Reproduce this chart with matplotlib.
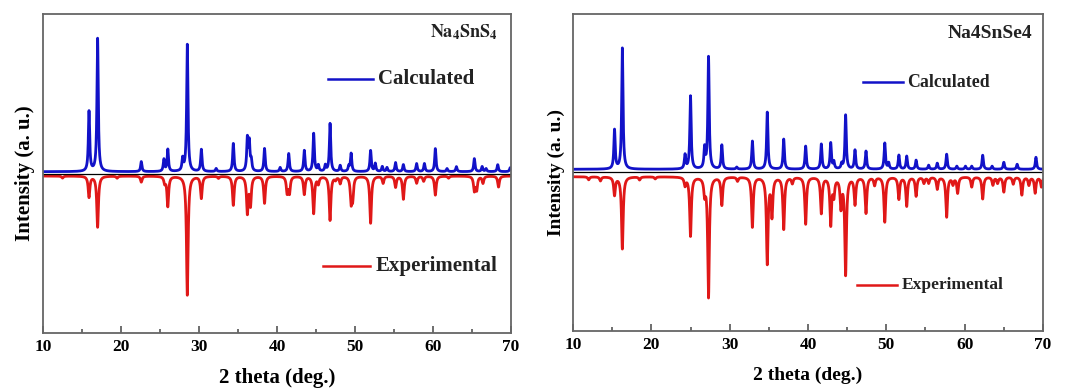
import numpy as np
import matplotlib
matplotlib.use("Agg")
import matplotlib.pyplot as plt

plt.rcParams['font.family'] = ['Liberation Serif', 'DejaVu Serif']
plt.rcParams['font.weight'] = 'bold'
plt.rcParams['mathtext.fontset'] = 'stix'

# peak lists: 2theta position, height (arbitrary units)
s_calc_pos = [15.9, 17.0, 22.6, 25.5, 26.0, 27.9, 28.5, 30.3, 32.2, 34.4, 36.2, 36.45, 36.7,
              38.4, 40.4, 41.5, 43.5, 44.7, 45.3, 46.2, 46.8, 48.1, 49.2, 49.5, 52.0, 52.6,
              53.5, 54.1, 55.2, 56.2, 57.9, 58.9, 60.3, 61.8, 63.0, 65.3, 66.3, 66.8, 68.3, 69.9]
s_calc_h = [60, 133, 10, 12, 22, 12, 127, 22, 3, 28, 32, 28, 10,
            23, 4, 18, 21, 38, 6, 6, 48, 6, 5, 18, 21, 8,
            5, 4, 9, 7, 8, 8, 23, 3, 5, 13, 5, 3, 7, 4]
s_exp_pos = [15.9, 17.0, 22.6, 25.6, 26.0, 28.5, 30.3, 34.4, 36.2, 36.6, 38.4, 41.3, 41.6,
             43.5, 44.7, 45.3, 46.8, 48.1, 49.5, 49.7, 52.0, 53.6, 55.2, 56.2, 57.9, 58.8,
             60.3, 65.3, 65.6, 66.4, 68.4, 12.5, 19.5, 32.5, 47.5, 62.0]
s_exp_h = [21, 51, 6, 6, 30, 119, 22, 29, 36, 28, 27, 16, 16,
           18, 37, 7, 44, 7, 24, 20, 47, 7, 11, 23, 7, 5,
           19, 14, 13, 7, 11, 2, 2, 2, 3, 2]

se_calc_pos = [15.3, 16.3, 24.3, 25.0, 26.8, 27.3, 29.0, 30.9, 32.9, 34.8, 36.9, 39.7, 41.7,
               42.9, 43.3, 44.3, 44.8, 46.0, 47.4, 49.8, 50.3, 51.6, 52.6, 53.8, 55.4, 56.5,
               57.7, 59.0, 60.1, 60.9, 62.3, 63.5, 65.0, 66.7, 69.1]
se_calc_h = [39, 121, 14, 73, 20, 112, 24, 2, 28, 57, 30, 23, 25,
             26, 7, 5, 54, 19, 18, 26, 6, 14, 13, 9, 4, 6,
             15, 3, 3, 3, 14, 3, 7, 5, 12]
se_exp_pos = [15.3, 16.3, 24.3, 25.0, 26.8, 27.3, 29.0, 32.9, 34.8, 35.4, 36.9, 39.7, 41.7,
              42.9, 43.3, 44.2, 44.8, 46.0, 47.4, 49.8, 51.6, 52.6, 53.8, 55.4, 56.5, 57.7,
              59.1, 60.9, 62.3, 63.6, 65.0, 67.3, 69.0, 69.8, 12.0, 13.5, 18.5, 20.5, 31.0,
              38.0, 48.5, 54.8, 58.5, 64.2, 66.2, 68.2]
se_exp_h = [18, 72, 8, 59, 15, 120, 28, 50, 86, 38, 52, 47, 36,
            47, 17, 29, 97, 27, 36, 45, 22, 29, 19, 6, 12, 40,
            16, 10, 22, 8, 15, 18, 16, 10, 3, 4, 3, 2, 4,
            6, 8, 6, 7, 6, 7, 8]


def pattern(x, pos, h, w):
    y = np.zeros_like(x)
    for p, a in zip(pos, h):
        y += a / (1 + ((x - p) / (w / 2)) ** 2)
    return y


x = np.arange(10, 70.001, 0.01)

fig = plt.figure(figsize=(10.65, 3.92), dpi=100)
ax1 = fig.add_axes([43 / 1065, 59 / 392, 468 / 1065, 319 / 392])
ax2 = fig.add_axes([573 / 1065, 61 / 392, 470 / 1065, 317 / 392])

panels = [
    (ax1, s_calc_pos, s_calc_h, s_exp_pos, s_exp_h, 2.0, -2.3, (-159.3, 159.7), 15),
    (ax2, se_calc_pos, se_calc_h, se_exp_pos, se_exp_h, 2.4, -5.0, (-159.3, 157.7), 14),
]

for ax, cp, ch, ep, eh, b_off, r_off, ylim, fs in panels:
    ax.plot(x, b_off + pattern(x, cp, ch, 0.2), color='#1212c8', lw=2.0)
    ax.plot(x, r_off - pattern(x, ep, eh, 0.25), color='#e01818', lw=2.0)
    ax.axhline(0, color='black', lw=0.9)
    ax.set_xlim(10, 70)
    ax.set_ylim(*ylim)
    ax.set_yticks([])
    ax.set_xticks(range(10, 71, 10))
    ax.set_xticks(range(15, 70, 10), minor=True)
    ax.tick_params(axis='x', which='major', direction='in', length=5, width=1.2,
                   color='#555555', labelsize=12.5, pad=4)
    ax.tick_params(axis='x', which='minor', direction='in', length=3, width=1.2,
                   color='#555555')
    for sp in ax.spines.values():
        sp.set_color('#666666')
        sp.set_linewidth(1.3)
    ax.set_xlabel('2 theta (deg.)', fontsize=fs, fontweight='bold', labelpad=10)
    ax.set_ylabel('Intensity (a. u.)', fontsize=fs, fontweight='bold', labelpad=6)

# sample names
ax1.text(0.972, 0.944, r"$\mathbf{Na_4SnS_4}$", transform=ax1.transAxes,
         ha='right', va='center', fontsize=13, color='#222222')
ax2.text(0.977, 0.94, "Na4SnSe4", transform=ax2.transAxes,
         ha='right', va='center', fontsize=14, fontweight='bold', color='#222222')

# legend entries drawn by hand
ax1.plot([0.609, 0.705], [0.796, 0.796], color='#1212c8', lw=1.8, transform=ax1.transAxes)
ax1.text(0.716, 0.796, 'Calculated', transform=ax1.transAxes, va='center',
         fontsize=15, fontweight='bold', color='#222222')
ax1.plot([0.598, 0.699], [0.21, 0.21], color='#e01818', lw=1.8, transform=ax1.transAxes)
ax1.text(0.711, 0.21, 'Experimental', transform=ax1.transAxes, va='center',
         fontsize=15, fontweight='bold', color='#222222')

ax2.plot([0.617, 0.702], [0.785, 0.785], color='#1212c8', lw=1.8, transform=ax2.transAxes)
ax2.text(0.711, 0.785, 'Calculated', transform=ax2.transAxes, va='center',
         fontsize=12.8, fontweight='bold', color='#222222')
ax2.plot([0.604, 0.689], [0.145, 0.145], color='#e01818', lw=1.8, transform=ax2.transAxes)
ax2.text(0.70, 0.145, 'Experimental', transform=ax2.transAxes, va='center',
         fontsize=12.5, fontweight='bold', color='#222222')

fig.savefig('out.png', dpi=100)
